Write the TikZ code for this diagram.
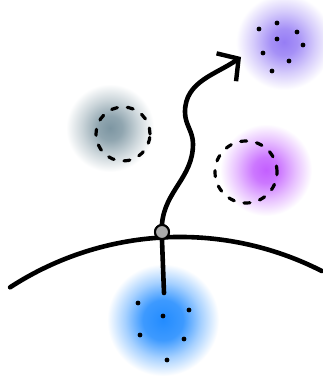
\documentclass[tikz,border=0pt]{standalone}
\usetikzlibrary{arrows.meta}
\definecolor{glowA}{RGB}{150,125,245}
\definecolor{glowB}{RGB}{125,150,162}
\definecolor{glowC}{RGB}{195,95,255}
\definecolor{glowD}{RGB}{35,140,255}
\definecolor{nodegray}{RGB}{170,170,170}
\pgfdeclareradialshading{glowAs}{\pgfpointorigin}{color(0bp)=(glowA); color(7bp)=(glowA!85!white); color(16bp)=(glowA!40!white); color(25bp)=(white); color(50bp)=(white)}
\pgfdeclareradialshading{glowBs}{\pgfpointorigin}{color(0bp)=(glowB); color(7bp)=(glowB!85!white); color(16bp)=(glowB!40!white); color(25bp)=(white); color(50bp)=(white)}
\pgfdeclareradialshading{glowCs}{\pgfpointorigin}{color(0bp)=(glowC); color(7bp)=(glowC!85!white); color(16bp)=(glowC!40!white); color(25bp)=(white); color(50bp)=(white)}
\pgfdeclareradialshading{glowDs}{\pgfpointorigin}{color(0bp)=(glowD); color(9bp)=(glowD!88!white); color(17bp)=(glowD!40!white); color(25bp)=(white); color(50bp)=(white)}
\tikzset{
  inkline/.style={line width=4.6pt, line cap=round, black},
  dashring/.style={line width=3.2pt, line cap=round, dash pattern=on 6pt off 10pt},
  dotmark/.style={fill=black},
  hub/.style={circle, draw=black, line width=2pt, fill=nodegray, minimum size=14pt, inner sep=0pt},
}
\begin{document}
\begin{tikzpicture}[x=1pt,y=1pt]
\useasboundingbox[fill=white] (0,0) rectangle (323,384);
% glows
\shade[shading=glowAs] (284,342) circle (48);
\shade[shading=glowBs] (110,256) circle (44);
\shade[shading=glowCs] (266,214) circle (46);
\shade[shading=glowDs] (163,64) circle (56);
% dashed rings
\draw[dashring] (123,250) circle (27);
\draw[dashring] (246,212) circle (31);
% dots top right
\foreach \p in {(259,355),(277,361),(297,352),(277,345),(303,339),(263,331),(289,323),(272,313)}
  \fill[dotmark] \p circle (2.4);
% dots blue
\foreach \p in {(138,81),(163,68),(189,74),(140,49),(184,45),(167,24)}
  \fill[dotmark] \p circle (2.4);
% arc
\draw[inkline] (10.1,96.7) arc[start angle=123, end angle=63, radius=312];
% hub and lines
\node[hub] (n) at (162,152) {};
\coordinate (b) at (164,91);
\coordinate (c1) at (193,240);
\coordinate (c2) at (185,272);
\coordinate (tip) at (241,327);
\draw[inkline] (n.south) -- (b);
\draw[inkline, -{Straight Barb[length=15pt,width=34pt,line width=4.4pt]}]
  (n.north) to[out=85,in=-90] (c1) to[out=90,in=-90] (c2) to[out=90,in=215] (tip);
\node[hub] at (n) {};
\end{tikzpicture}
\end{document}
